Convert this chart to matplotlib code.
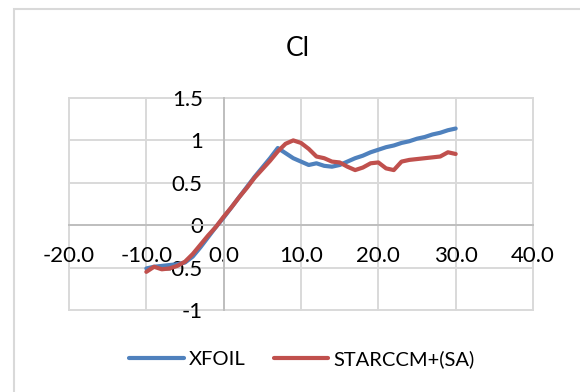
import matplotlib
matplotlib.use("Agg")
import matplotlib.pyplot as plt
from matplotlib.patches import Rectangle
from matplotlib.ticker import FuncFormatter

# angle of attack (deg) and lift coefficient
alpha = [-10, -9, -8, -7, -6, -5, -4, -3, -2, -1, 0, 1, 2, 3, 4, 5, 6, 7, 8, 9, 10,
         11, 12, 13, 14, 15, 16, 17, 18, 19, 20, 21, 22, 23, 24, 25, 26, 27, 28, 29, 30]
cl_xfoil = [-0.51, -0.49, -0.48, -0.47, -0.46, -0.44, -0.37, -0.26, -0.14, -0.02, 0.09,
            0.21, 0.33, 0.45, 0.57, 0.68, 0.79, 0.91, 0.85, 0.79, 0.75,
            0.71, 0.73, 0.70, 0.69, 0.71, 0.75, 0.79, 0.82, 0.86, 0.89,
            0.92, 0.94, 0.97, 0.99, 1.02, 1.04, 1.07, 1.09, 1.12, 1.14]
cl_star = [-0.55, -0.49, -0.52, -0.51, -0.48, -0.43, -0.34, -0.23, -0.12, -0.02, 0.10,
           0.21, 0.33, 0.44, 0.56, 0.66, 0.76, 0.87, 0.96, 1.00, 0.97,
           0.90, 0.81, 0.79, 0.75, 0.74, 0.69, 0.65, 0.68, 0.73, 0.74,
           0.67, 0.65, 0.75, 0.77, 0.78, 0.79, 0.80, 0.81, 0.86, 0.84]

x_ticks = [-20, -10, 0, 10, 20, 30, 40]
y_ticks = [-1, -0.5, 0, 0.5, 1, 1.5]

plt.rcParams['font.family'] = ['Lato', 'DejaVu Sans']

fig = plt.figure(figsize=(5.8, 3.92), dpi=100)
# outer chart border (cut off at right/bottom like the source)
fig.patches.append(Rectangle((14 / 580, -0.1), 1.2, 1.1 - 9.5 / 392,
                             transform=fig.transFigure, fill=False,
                             edgecolor='#D9D9D9', linewidth=1.5))

ax = fig.add_axes([69 / 580, (392 - 310) / 392, 464 / 580, 212 / 392])
ax.plot(alpha, cl_xfoil, color='#4F81BD', lw=3, solid_capstyle='round',
        solid_joinstyle='round', label='XFOIL', zorder=3)
ax.plot(alpha, cl_star, color='#C0504D', lw=3, solid_capstyle='round',
        solid_joinstyle='round', label='STARCCM+(SA)', zorder=4)

ax.set_xlim(-20, 40)
ax.set_ylim(-1, 1.5)
ax.set_xticks(x_ticks)
ax.set_yticks(y_ticks)
ax.xaxis.set_major_formatter(FuncFormatter(lambda v, p: '%.1f' % v))
ax.yaxis.set_major_formatter(FuncFormatter(lambda v, p: '%g' % v))

for s in ['top', 'right']:
    ax.spines[s].set_visible(False)
ax.spines['left'].set_position(('data', 0))
ax.spines['bottom'].set_position(('data', 0))
for s in ['left', 'bottom']:
    ax.spines[s].set_color('#BFBFBF')
    ax.spines[s].set_linewidth(1.4)
    ax.spines[s].set_zorder(2)

ax.grid(True, color='#D9D9D9', linewidth=1.4, zorder=0)
ax.set_axisbelow(True)
for gl in ax.get_xgridlines() + ax.get_ygridlines():
    gl.set_clip_on(False)

ax.tick_params(axis='both', length=0, labelsize=16, colors='black')
ax.tick_params(axis='x', pad=15)
ax.tick_params(axis='y', pad=15)

fig.text(298 / 580, 1 - 49 / 392, 'Cl', ha='center', va='center', fontsize=19)

fig.legend(loc='center', bbox_to_anchor=(302 / 580, (392 - 359) / 392), ncol=2,
           frameon=False, fontsize=14.5, handlelength=2.7, handletextpad=0.25,
           columnspacing=1.4)

plt.savefig('out.png', dpi=100)
plt.close()
